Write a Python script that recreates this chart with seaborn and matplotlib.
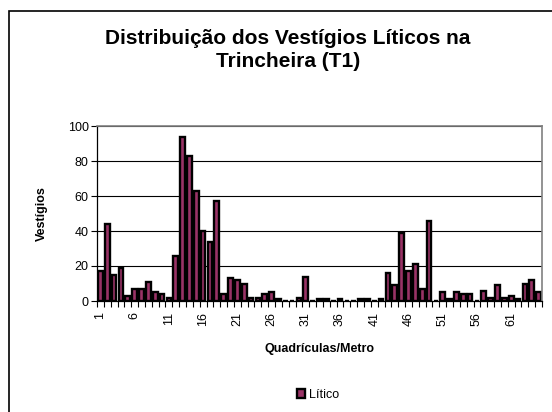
import seaborn as sns
import matplotlib.pyplot as plt
import numpy as np
import pandas as pd
from matplotlib.patches import Rectangle

# Dados: vestigios liticos por quadricula/metro (1..65)
quadriculas = list(range(1, 66))
litico = [17, 44, 15, 19, 3, 7, 7, 11, 5, 4,
          2, 26, 94, 83, 63, 40, 34, 57, 4, 13,
          12, 10, 2, 2, 4, 5, 1, 0, 0, 2,
          14, 0, 1, 1, 0, 1, 0, 0, 1, 1,
          0, 1, 16, 9, 39, 17, 21, 7, 46, 0,
          5, 1, 5, 4, 4, 0, 6, 2, 9, 2,
          3, 1, 10, 12, 5]
tick_labels = [str(q) if (q - 1) % 5 == 0 else "" for q in quadriculas]

data = pd.DataFrame({'Quadricula': quadriculas, 'Litico': litico})

sns.set_style("white")
plt.rcParams['font.family'] = ['Liberation Sans', 'DejaVu Sans']
plt.rcParams['text.color'] = 'black'
plt.rcParams['axes.labelcolor'] = 'black'
plt.rcParams['xtick.color'] = 'black'
plt.rcParams['ytick.color'] = 'black'

fig = plt.figure(figsize=(5.52, 4.12), dpi=100)
ax = fig.add_axes([97 / 552, 1 - 301 / 412, 445 / 552, 175 / 412])

sns.barplot(x='Quadricula', y='Litico', data=data, ax=ax, color='#993366',
            edgecolor='black', linewidth=1.7, width=0.68, saturation=1,
            label='Lítico')

ax.set_ylim(0, 100)
ax.set_xlim(-0.5, len(quadriculas) - 0.5)
ax.set_yticks(np.arange(0, 101, 20))
ax.yaxis.grid(True, color='black', linewidth=0.8)
ax.set_axisbelow(True)

ax.set_xticks(np.arange(len(quadriculas)))
ax.set_xticklabels(tick_labels, rotation=90, fontsize=9)
ax.tick_params(axis='x', length=0, pad=8)
ax.set_xticks(np.arange(len(quadriculas) + 1) - 0.5, minor=True)
ax.tick_params(axis='x', which='minor', length=4, width=0.8, color='black',
               direction='out', bottom=True)
ax.tick_params(axis='y', labelsize=9, length=4, width=0.8, color='black',
               direction='out', left=True, pad=2)

for side in ['left', 'bottom']:
    ax.spines[side].set_color('black')
    ax.spines[side].set_linewidth(0.9)
for side in ['top', 'right']:
    ax.spines[side].set_visible(True)
    ax.spines[side].set_color('#808080')
    ax.spines[side].set_linewidth(1.2)

ax.set_xlabel('Quadrículas/Metro', fontsize=9, fontweight='bold', labelpad=12)
ax.set_ylabel('Vestígios', fontsize=9, fontweight='bold', labelpad=14)

fig.text(288 / 552, 1 - 29 / 412,
         'Distribuição dos Vestígios Líticos na\nTrincheira (T1)',
         ha='center', va='top', fontsize=15, fontweight='bold',
         linespacing=1.28)

leg = ax.legend(loc='center', bbox_to_anchor=(318 / 552, 1 - 395 / 412),
                bbox_transform=fig.transFigure, frameon=False, fontsize=9,
                handlelength=0.7, handleheight=0.7, handletextpad=0.3)

# moldura do grafico
fig.patches.append(Rectangle((9 / 552, -0.1), 1.0, 1 - 11 / 412 + 0.1,
                             transform=fig.transFigure, fill=False,
                             edgecolor='black', linewidth=1.2))

fig.savefig('out.png', dpi=100)
